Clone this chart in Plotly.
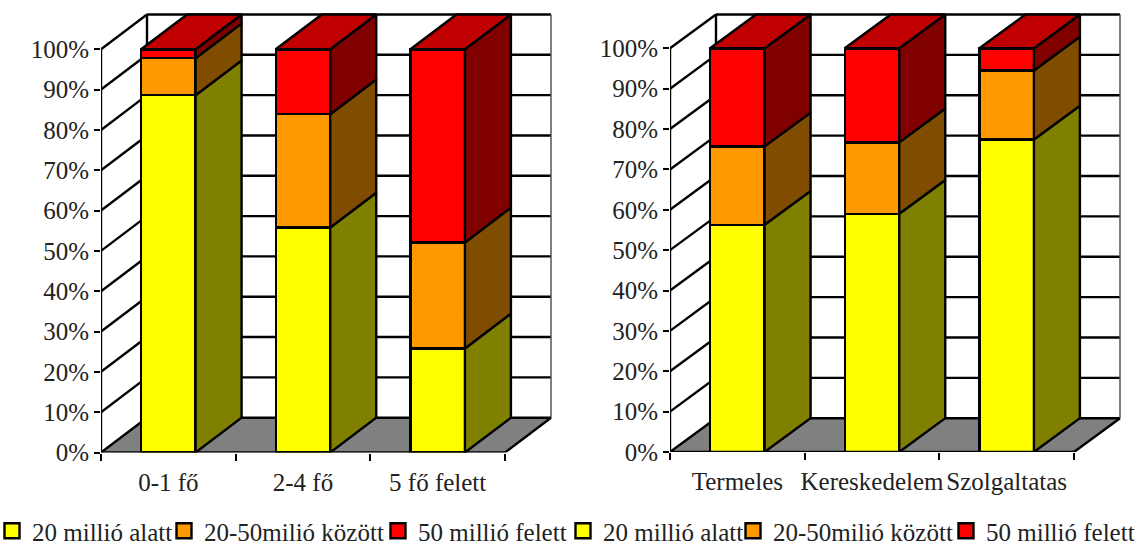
import plotly.graph_objects as go

categories_left = ["0-1 fő", "2-4 fő", "5 fő felett"]
categories_right = ["Termeles", "Kereskedelem", "Szolgaltatas"]
series_names = ["20 millió alatt", "20-50milió között", "50 millió felett"]
low_left = [88.6, 55.8, 25.8]
mid_left = [9.2, 28.1, 26.3]
high_left = [2.2, 16.1, 47.9]
low_right = [56.3, 59.0, 77.4]
mid_right = [19.4, 17.7, 17.1]
high_right = [24.3, 23.3, 5.5]
tick_values = [0, 10, 20, 30, 40, 50, 60, 70, 80, 90, 100]
tick_labels = ["0%", "10%", "20%", "30%", "40%", "50%", "60%", "70%", "80%", "90%", "100%"]
front_colors = ["#FFFF00", "#FF9900", "#FF0000"]
side_colors = ["#808000", "#804C00", "#800000"]
top_color = "#C00000"
floor_color = "#808080"

W, H = 1135, 545
FONT = "Liberation Serif"
TICK_SIZE = 25
LEG_SIZE = 25
BAR_W = 54.5 / 134.67
LW = 2.4

fig = go.Figure()
shapes = []


def add_chart(cats, stacks, x0_px, y0_px, y100_px, ax):
    suffix = "" if ax == 1 else str(ax)
    xa, ya = "x" + suffix, "y" + suffix
    unit = 404 / 3
    dx = 46 / unit
    per = (y0_px - y100_px) / 100
    dy = (y0_px - 14.5) / per - 100
    back_right_px = x0_px + 404 + 46
    xmax = (back_right_px + 3 - x0_px) / unit
    ymax = (y0_px - 11) / per

    def line(x1, y1, x2, y2, color="black", width=LW):
        shapes.append(dict(type="line", xref=xa, yref=ya, x0=x1, y0=y1, x1=x2, y1=y2,
                           line=dict(color=color, width=width), layer="below"))

    shapes.append(dict(type="path", xref=xa, yref=ya, layer="below", fillcolor=floor_color,
                       path=f"M0,0 L3,0 L{3+dx},{dy} L{dx},{dy} Z", line=dict(width=0)))
    for v in tick_values:
        line(0, v, dx, v + dy)
        if v == 0:
            continue
        line(dx, v + dy, 3 + dx, v + dy)
    line(dx, dy, 3 + dx, dy)
    line(dx, dy, dx, 100 + dy)
    line(3 + dx, dy, 3 + dx, 100 + dy, "#555555", 1.5)
    line(3, 0, 3 + dx, dy)

    xs = [i + 0.5 for i in range(3)]
    for s, vals in enumerate(stacks):
        fig.add_trace(go.Bar(x=xs, y=vals, name=series_names[s], width=BAR_W, xaxis=xa, yaxis=ya,
                             marker=dict(color=front_colors[s], line=dict(color="black", width=LW)),
                             showlegend=False, hoverinfo="skip"))

    bases = [0, 0, 0]
    for s, vals in enumerate(stacks):
        px, py = [], []
        for i, v in enumerate(vals):
            r = xs[i] + BAR_W / 2
            b = bases[i]
            t = b + v
            px += [r, r + dx, r + dx, r, r, None]
            py += [b, b + dy, t + dy, t, b, None]
            bases[i] = t
        fig.add_trace(go.Scatter(x=px, y=py, xaxis=xa, yaxis=ya, mode="lines", fill="toself",
                                 fillcolor=side_colors[s], line=dict(color="black", width=LW),
                                 showlegend=False, hoverinfo="skip", cliponaxis=False))
    px, py = [], []
    for i in range(3):
        l, r = xs[i] - BAR_W / 2, xs[i] + BAR_W / 2
        t = bases[i]
        px += [l, r, r + dx, l + dx, l, None]
        py += [t, t, t + dy, t + dy, t, None]
    fig.add_trace(go.Scatter(x=px, y=py, xaxis=xa, yaxis=ya, mode="lines", fill="toself",
                             fillcolor=top_color, line=dict(color="black", width=LW),
                             showlegend=False, hoverinfo="skip", cliponaxis=False))
    fig.add_trace(go.Scatter(x=[0, 0, 3], y=[100, 0, 0], xaxis=xa, yaxis=ya, mode="lines",
                             line=dict(color="black", width=LW), showlegend=False,
                             hoverinfo="skip", cliponaxis=False))

    axis_x = dict(domain=[x0_px / W, (back_right_px + 3) / W], range=[0, xmax], tickvals=xs, ticktext=cats,
                  ticks="", showgrid=False, zeroline=False, showline=False,
                  tickfont=dict(family=FONT, size=TICK_SIZE, color="#222"), ticklabelstandoff=12,
                  minor=dict(tickvals=[0, 1, 2, 3], ticks="outside", ticklen=7, tickwidth=LW,
                             tickcolor="black", showgrid=False),
                  anchor=ya, fixedrange=True)
    axis_y = dict(domain=[(H - y0_px) / H, (H - 11) / H], range=[0, ymax], tickvals=tick_values,
                  ticktext=tick_labels,
                  ticks="outside", ticklen=6, tickwidth=LW, tickcolor="black", showgrid=False,
                  zeroline=False, showline=False,
                  tickfont=dict(family=FONT, size=TICK_SIZE, color="#222"),
                  anchor=xa, fixedrange=True)
    return axis_x, axis_y


xa1, ya1 = add_chart(categories_left, [low_left, mid_left, high_left], 101, 452.5, 49.3, 1)
xa2, ya2 = add_chart(categories_right, [low_right, mid_right, high_right], 670, 452, 48.3, 2)

text_lefts = [32, 204, 418, 603, 773, 986]
legend_layouts = {}
for k, tx in enumerate(text_lefts):
    key = "legend" if k == 0 else f"legend{k+1}"
    s = k % 3
    fig.add_trace(go.Scatter(x=[None], y=[None], mode="markers", name=series_names[s], legend=key,
                             marker=dict(symbol="square", size=15, color=front_colors[s],
                                         line=dict(color="black", width=LW)),
                             showlegend=True, hoverinfo="skip"))
    legend_layouts[key] = dict(x=(tx - 35) / W, xanchor="left", y=(H - 531) / H, yanchor="middle",
                               indentation=-5,
                               font=dict(family=FONT, size=LEG_SIZE, color="#222"),
                               bgcolor="rgba(0,0,0,0)", borderwidth=0, itemclick=False,
                               itemdoubleclick=False)

fig.update_layout(width=W, height=H, margin=dict(l=0, r=0, t=0, b=0, autoexpand=False), paper_bgcolor="white",
                  plot_bgcolor="rgba(0,0,0,0)", barmode="stack", shapes=shapes,
                  xaxis=xa1, yaxis=ya1, xaxis2=xa2, yaxis2=ya2, **legend_layouts)

fig.write_html("out.html", config={"displayModeBar": False},
               post_script="document.body.style.margin='0';document.body.style.overflow='hidden';")
